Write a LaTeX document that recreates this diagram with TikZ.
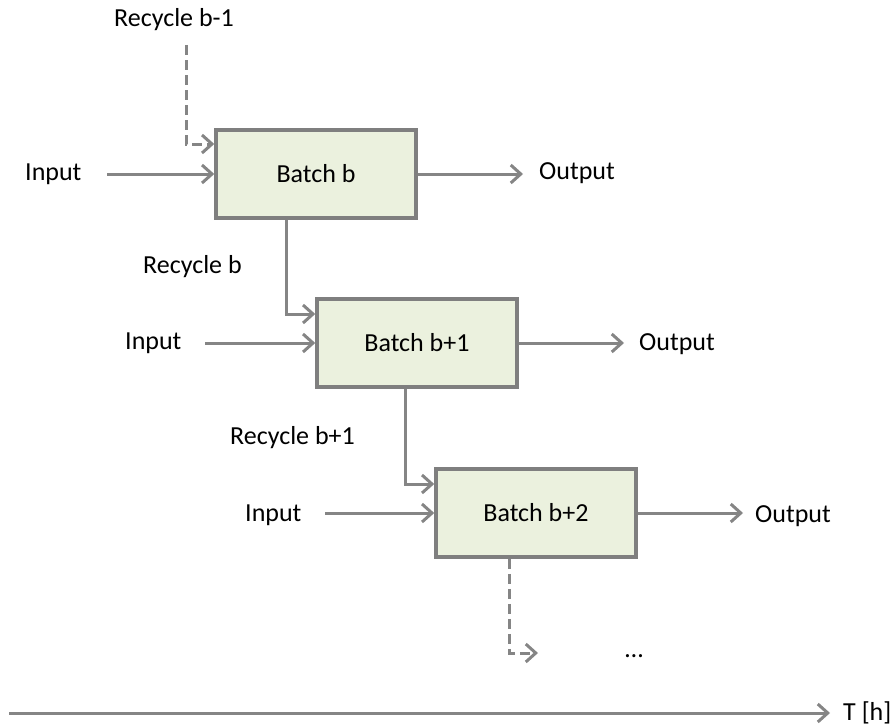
\documentclass[tikz,border=0pt]{standalone}
\usepackage{fontspec}
\setmainfont{Carlito}
\usetikzlibrary{arrows.meta}
\definecolor{linegray}{HTML}{858585}
\definecolor{boxgray}{HTML}{7F7F7F}
\definecolor{boxfill}{HTML}{EBF1DE}
\begin{document}
\begin{tikzpicture}[x=1pt,y=-1pt,
  font=\fontsize{26}{31}\selectfont,
  batchbox/.style={draw=boxgray,fill=boxfill,line width=3.5pt,
    minimum width=200pt,minimum height=88pt,inner sep=0pt},
  flow/.style={draw=linegray,line width=3pt,
    -{Straight Barb[length=10pt,width=18pt]}},
  recyc/.style={flow,dash pattern=on 10pt off 5pt},
  lbl/.style={anchor=base west,inner sep=0pt}]
\useasboundingbox (0,0) rectangle (893,725);

% batches
\node[batchbox] (b1) at (316,174) {Batch b};
\node[batchbox] (b2) at (417,343) {Batch b+1};
\node[batchbox] (b3) at (536,513) {Batch b+2};

% labels
\node[lbl] (rec0) at (114,27) {Recycle b-1};
\node[lbl] (rec1) at (143,273) {Recycle b};
\node[lbl] (rec2) at (230,444) {Recycle b+1};
\node[lbl] (in1) at (25,180) {Input};
\node[lbl] (in2) at (125,349) {Input};
\node[lbl] (in3) at (245,521) {Input};
\node[lbl] (out1) at (539,179) {Output};
\node[lbl] (out2) at (639,350) {Output};
\node[lbl] (out3) at (755,522) {Output};
\node[lbl] (dots) at (625,657) {…};
\node[lbl] (time) at (843,720) {T [h]};

% free ends
\coordinate (r0top) at (186,45);
\coordinate (i1) at (107,174);
\coordinate (i2) at (205,343);
\coordinate (i3) at (325,513);
\coordinate (o1) at (523,174);
\coordinate (o2) at (624,343);
\coordinate (o3) at (743,513);
\coordinate (nextend) at (538,653);
\coordinate (t0) at (9,713);
\coordinate (t1) at (830,713);

% inputs and outputs
\draw[flow] (i1) -- (b1.west);
\draw[flow] (i2) -- (b2.west);
\draw[flow] (i3) -- (b3.west);
\draw[flow] (b1.east) -- (o1);
\draw[flow] (b2.east) -- (o2);
\draw[flow] (b3.east) -- (o3);

% recycle streams
\draw[recyc] (r0top) |- ([yshift=30pt]b1.west);
\draw[flow] ([xshift=-30pt]b1.south) |- ([yshift=29pt]b2.west);
\draw[flow] ([xshift=-12pt]b2.south) |- ([yshift=29pt]b3.west);
\draw[recyc] ([xshift=-27pt]b3.south) |- (nextend);

% time axis
\draw[flow] (t0) -- (t1);
\end{tikzpicture}
\end{document}
